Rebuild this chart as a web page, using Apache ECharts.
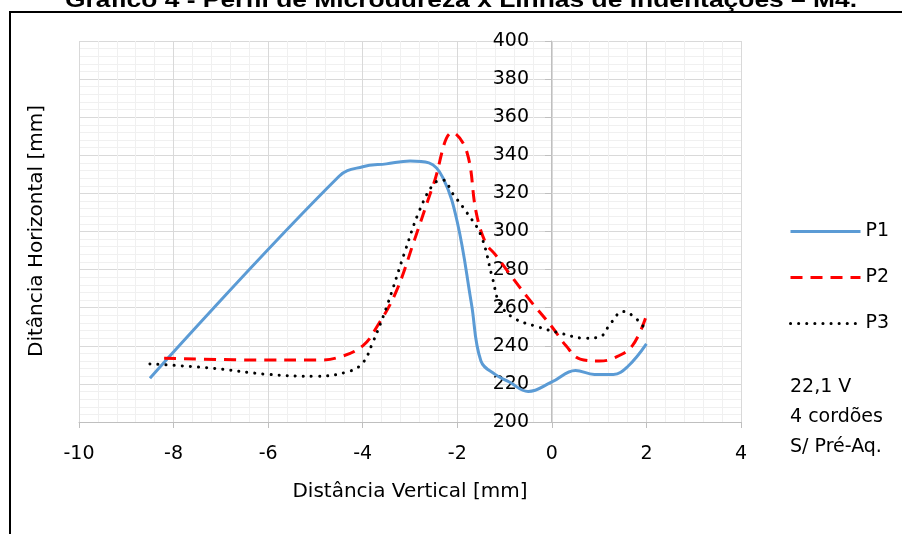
<!DOCTYPE html>
<html>
<head>
<meta charset="utf-8">
<script src="https://cdn.jsdelivr.net/npm/echarts@6/dist/echarts.min.js"></script>
<style>
  html, body { margin: 0; padding: 0; background: #fff; }
  #chart { width: 902px; height: 534px; }
</style>
</head>
<body>
<div id="chart"></div>
<script>
// values
const p1X = [-8.5, -4.5, -4, -3.5, -3, -2.6, -2.3, -2, -1.7, -1.5, -1.2, -0.9, -0.5, 0, 0.5, 0.9, 1.3, 1.6, 2];
const p1Y = [223, 329, 334, 335.5, 337, 336, 328, 305, 262, 232, 225, 221, 216, 221, 227, 225, 225, 229, 241];

const p2X = [-8.2, -6, -5, -4.5, -4, -3.7, -3.3, -2.9, -2.5, -2.1, -1.8, -1.6, -1.4, -1.2, -0.9, -0.5, 0, 0.3, 0.6, 1, 1.3, 1.7, 2];
const p2Y = [233.5, 232.5, 232.5, 234, 240, 250, 268, 296, 325, 352, 342, 310, 294, 288, 278, 265, 250, 240, 233, 232, 233.5, 240, 256];

const p3X = [-8.5, -7.2, -6, -5, -4.3, -4, -3.8, -3.5, -3.1, -2.8, -2.5, -2.3, -2.1, -1.8, -1.5, -1.25, -1.1, -0.8, -0.3, 0.2, 0.7, 1, 1.25, 1.5, 1.75, 2];
const p3Y = [230.5, 228.3, 225, 224, 226.5, 231, 241, 260, 290, 311, 325, 327, 320, 310, 298, 275, 262, 254.5, 250, 246.5, 244, 244.5, 252, 258, 255, 248];

const seriesNames = ["P1", "P2", "P3"];
const noteLines = ["22,1 V", "4 cordões", "S/ Pré-Aq."];

const pairs = (xs, ys) => xs.map((x, i) => [x, ys[i]]);

const font = "DejaVu Sans";
const chart = echarts.init(document.getElementById("chart"), null, { renderer: "canvas" });

const option = {
  backgroundColor: "#fff",
  animation: false,
  grid: { left: 79, right: 161, top: 41, bottom: 112, containLabel: false },
  xAxis: {
    type: "value",
    min: -10,
    max: 4,
    interval: 2,
    axisLine: { onZero: false, lineStyle: { color: "#bfbfbf", width: 1 } },
    axisTick: { show: true, length: 6, lineStyle: { color: "#bfbfbf" } },
    axisLabel: { color: "#000", fontFamily: font, fontSize: 19, margin: 23 },
    splitLine: { show: true, lineStyle: { color: "#d9d9d9", width: 1 } },
    minorTick: { show: false, splitNumber: 5 },
    minorSplitLine: { show: true, lineStyle: { color: "#f0f0f0", width: 1 } }
  },
  yAxis: {
    type: "value",
    min: 200,
    max: 400,
    interval: 20,
    offset: -472, // axis sits at x = 0
    axisLine: { show: true, onZero: false, lineStyle: { color: "#bfbfbf", width: 1 } },
    axisTick: { show: true, length: 6, lineStyle: { color: "#bfbfbf" } },
    axisLabel: { color: "#000", fontFamily: font, fontSize: 19, margin: 22 },
    splitLine: { show: true, lineStyle: { color: "#d9d9d9", width: 1 } },
    minorTick: { show: false, splitNumber: 5 },
    minorSplitLine: { show: true, lineStyle: { color: "#f0f0f0", width: 1 } }
  },
  legend: {
    orient: "vertical",
    left: 789,
    top: 222,
    padding: 0,
    itemWidth: 70,
    itemHeight: 14,
    itemGap: 27,
    data: seriesNames,
    itemStyle: { opacity: 0 },
    lineStyle: { width: 3 },
    textStyle: { color: "#000", fontFamily: font, fontSize: 19 }
  },
  series: [
    {
      name: seriesNames[0],
      type: "line",
      data: pairs(p1X, p1Y),
      smooth: 0.4,
      symbol: "none",
      lineStyle: { color: "#5b9bd5", width: 3 },
      itemStyle: { color: "#5b9bd5" }
    },
    {
      name: seriesNames[1],
      type: "line",
      data: pairs(p2X, p2Y),
      smooth: 0.4,
      symbol: "none",
      lineStyle: { color: "#ff0000", width: 3, type: [12, 8] },
      itemStyle: { color: "#ff0000" }
    },
    {
      name: seriesNames[2],
      type: "line",
      data: pairs(p3X, p3Y),
      smooth: 0.4,
      symbol: "none",
      lineStyle: { color: "#000", width: 3, type: [0.1, 8], cap: "round" },
      itemStyle: { color: "#000" }
    }
  ],
  graphic: [
    {
      type: "rect",
      shape: { x: 10, y: 12, width: 1000, height: 1000 },
      style: { fill: null, stroke: "#000", lineWidth: 2 },
      silent: true,
      z: 100
    },
    {
      type: "text",
      x: 461,
      y: 1,
      scaleX: 1.2,
      style: {
        text: "Gráfico 4 - Perfil de Microdureza x Linhas de Indentações – M4.",
        font: "bold 22px 'Liberation Sans', Arial, sans-serif",
        fill: "#000",
        textAlign: "center",
        textVerticalAlign: "middle"
      },
      z: 100
    },
    {
      type: "text",
      x: 37,
      y: 231,
      rotation: Math.PI / 2,
      style: {
        text: "Ditância Horizontal [mm]",
        font: "20px '" + font + "'",
        fill: "#000",
        textAlign: "center",
        textVerticalAlign: "middle"
      }
    },
    {
      type: "text",
      x: 410,
      y: 492,
      style: {
        text: "Distância Vertical [mm]",
        font: "20px '" + font + "'",
        fill: "#000",
        textAlign: "center",
        textVerticalAlign: "middle"
      }
    },
    {
      type: "text",
      x: 790,
      y: 417,
      style: {
        text: noteLines.join("\n"),
        font: "19px '" + font + "'",
        lineHeight: 30,
        fill: "#000",
        textAlign: "left",
        textVerticalAlign: "middle"
      }
    }
  ]
};

chart.setOption(option);
</script>
</body>
</html>
